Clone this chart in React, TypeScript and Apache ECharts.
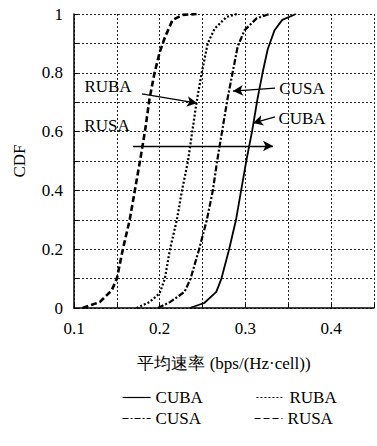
import React, { useEffect, useRef } from "react";
import * as echarts from "echarts";

const seriesNames = ["CUBA", "RUBA", "CUSA", "RUSA"];

const cuba: [number, number][] = [
  [0.235, 0], [0.252, 0.017], [0.266, 0.055], [0.272, 0.1], [0.281, 0.2],
  [0.289, 0.3], [0.295, 0.4], [0.301, 0.5], [0.308, 0.605], [0.314, 0.71],
  [0.32, 0.8], [0.326, 0.88], [0.334, 0.945], [0.343, 0.98], [0.359, 1.0],
];
const cusa: [number, number][] = [
  [0.198, 0], [0.212, 0.02], [0.229, 0.055], [0.236, 0.1], [0.246, 0.2],
  [0.255, 0.3], [0.262, 0.4], [0.267, 0.5], [0.273, 0.605], [0.279, 0.71],
  [0.285, 0.8], [0.291, 0.89], [0.299, 0.945], [0.313, 0.985], [0.328, 1.0],
];
const ruba: [number, number][] = [
  [0.173, 0], [0.188, 0.02], [0.2, 0.05], [0.206, 0.1], [0.212, 0.2],
  [0.22, 0.3], [0.226, 0.4], [0.233, 0.5], [0.238, 0.6], [0.243, 0.7],
  [0.249, 0.8], [0.256, 0.9], [0.264, 0.95], [0.278, 0.99], [0.29, 1.0],
];
const rusa: [number, number][] = [
  [0.11, 0], [0.13, 0.02], [0.144, 0.06], [0.15, 0.1], [0.157, 0.2],
  [0.165, 0.3], [0.171, 0.4], [0.177, 0.5], [0.183, 0.605], [0.188, 0.71],
  [0.194, 0.8], [0.2, 0.87], [0.206, 0.92], [0.215, 0.98], [0.227, 0.997],
  [0.243, 1.0],
];

// annotation arrows in data coordinates: [from, to]
const arrows: [[number, number], [number, number]][] = [
  [[0.1793, 0.728], [0.2435, 0.697]],
  [[0.1688, 0.551], [0.3322, 0.551]],
  [[0.3345, 0.748], [0.2855, 0.738]],
  [[0.3345, 0.65], [0.3089, 0.629]],
];
// annotation labels in data coordinates
const labels: { name: string; coord: [number, number] }[] = [
  { name: "RUBA", coord: [0.1397, 0.752] },
  { name: "RUSA", coord: [0.1385, 0.622] },
  { name: "CUSA", coord: [0.366, 0.748] },
  { name: "CUBA", coord: [0.366, 0.646] },
];

const FONT = "serif";

export default function App() {
  const ref = useRef<HTMLDivElement>(null);
  useEffect(() => {
    if (!ref.current) return;
    const chart = echarts.init(ref.current, undefined, { renderer: "svg" });
    const base = {
      type: "line",
      symbol: "none",
      smooth: false,
      silent: true,
    };
    const legendCommon = {
      left: 117,
      itemWidth: 28,
      itemHeight: 12,
      itemGap: 53,
      itemStyle: { opacity: 0, borderWidth: 0 },
      lineStyle: { width: 1.2 },
      textStyle: { fontFamily: FONT, fontSize: 17, color: "#000" },
    };
    chart.setOption({
      animation: false,
      textStyle: { fontFamily: FONT, color: "#000" },
      grid: { left: 74, top: 14, width: 300, height: 294 },
      legend: [
        { ...legendCommon, data: ["CUBA", "RUBA"], top: 384 },
        { ...legendCommon, data: ["CUSA", "RUSA"], top: 405 },
      ],
      xAxis: {
        type: "value",
        min: 0.1,
        max: 0.45,
        interval: 0.05,
        name: "平均速率 (bps/(Hz·cell))",
        nameLocation: "middle",
        nameGap: 47,
        nameTextStyle: { fontFamily: FONT, fontSize: 17, color: "#000" },
        axisLine: { show: true, onZero: false, lineStyle: { color: "#000", width: 1.5 } },
        axisTick: { show: true, inside: true, length: 4, lineStyle: { color: "#000" } },
        axisLabel: {
          fontFamily: FONT,
          fontSize: 17,
          color: "#000",
          margin: 12,
          formatter: (v: number) => {
            const k = Math.round(v * 100);
            return k % 10 === 0 && k < 45 ? String(k / 100) : "";
          },
        },
        splitLine: { show: true, lineStyle: { type: [2, 2], color: "#222", width: 1 } },
      },
      yAxis: {
        type: "value",
        min: 0,
        max: 1,
        interval: 0.1,
        name: "CDF",
        nameLocation: "middle",
        nameGap: 46,
        nameTextStyle: { fontFamily: FONT, fontSize: 17, color: "#000" },
        axisLine: { show: true, lineStyle: { color: "#000", width: 1.5 } },
        axisTick: { show: true, inside: true, length: 4, lineStyle: { color: "#000" } },
        axisLabel: {
          fontFamily: FONT,
          fontSize: 17,
          color: "#000",
          margin: 11,
          formatter: (v: number) => {
            const k = Math.round(v * 10);
            return k % 2 === 0 ? String(k / 10) : "";
          },
        },
        splitLine: { show: true, lineStyle: { type: [2, 2], color: "#222", width: 1 } },
      },
      series: [
        {
          ...base,
          name: "CUBA",
          data: cuba,
          lineStyle: { color: "#000", width: 1.8, type: "solid" },
          itemStyle: { color: "#000" },
          markLine: {
            silent: true,
            symbol: ["none", "arrow"],
            symbolSize: [8, 10],
            label: { show: false },
            lineStyle: { color: "#000", width: 1.3, type: "solid" },
            data: arrows.map(([a, b]) => [{ coord: a }, { coord: b }]),
          },
          markPoint: {
            silent: true,
            symbol: "rect",
            symbolSize: 1,
            itemStyle: { color: "rgba(0,0,0,0)" },
            label: {
              show: true,
              position: "inside",
              formatter: "{b}",
              fontFamily: FONT,
              fontSize: 17,
              color: "#000",
            },
            data: labels.map((l) => ({ name: l.name, coord: l.coord })),
          },
        },
        {
          ...base,
          name: "RUBA",
          data: ruba,
          lineStyle: { color: "#000", width: 2.2, type: [2, 2] },
          itemStyle: { color: "#000" },
        },
        {
          ...base,
          name: "CUSA",
          data: cusa,
          lineStyle: { color: "#000", width: 2.2, type: [6, 2, 2, 2] },
          itemStyle: { color: "#000" },
        },
        {
          ...base,
          name: "RUSA",
          data: rusa,
          lineStyle: { color: "#000", width: 2.6, type: [6, 3] },
          itemStyle: { color: "#000" },
        },
      ],
    });
    return () => chart.dispose();
  }, []);
  return (
    <div
      ref={ref}
      style={{ position: "fixed", left: 0, top: 0, width: 377, height: 446, background: "#fff" }}
    />
  );
}
